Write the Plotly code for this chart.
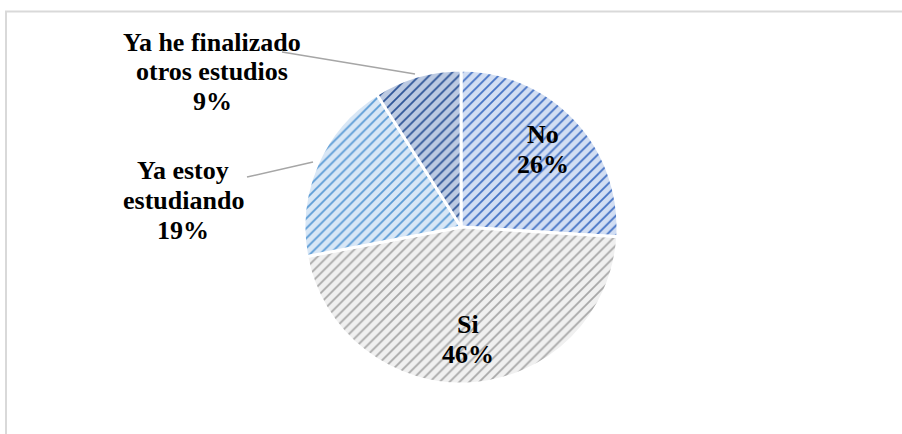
import math
import plotly.graph_objects as go

# Survey answers and their shares (%)
labels = ["No", "Si", "Ya estoy estudiando", "Ya he finalizado otros estudios"]
values = [26, 46, 19, 9]
label_lines = [["No"], ["Si"], ["Ya estoy", "estudiando"], ["Ya he finalizado", "otros estudios"]]

bg_colors = ["#d2def3", "#f0f0f0", "#d8e7f6", "#bccae2"]
fg_colors = ["#4472c4", "#a8a8a8", "#5b9bd5", "#2f5597"]

W, H = 902, 434
CX, CY, R = 461, 227, 157
FONT = dict(family="Liberation Serif", size=26, color="#000000", weight="bold")
LINE_H = 30


def px(x):
    return x / W


def py(y):
    return 1 - y / H


fig = go.Figure(
    go.Pie(
        labels=labels,
        values=values,
        sort=False,
        direction="clockwise",
        rotation=0,
        textinfo="none",
        hoverinfo="label+percent",
        marker=dict(
            colors=bg_colors,
            line=dict(color="#ffffff", width=3),
            pattern=dict(
                shape="/",
                bgcolor=bg_colors,
                fgcolor=fg_colors,
                size=7,
                solidity=0.26,
            ),
        ),
        domain=dict(x=[px(CX - R), px(CX + R)], y=[py(CY + R), py(CY - R)]),
        showlegend=False,
    )
)


def add_block(lines, cx, cy):
    n = len(lines)
    for i, line in enumerate(lines):
        y = cy + (i - (n - 1) / 2) * LINE_H
        fig.add_annotation(
            x=px(cx), y=py(y), xref="paper", yref="paper",
            text=line, showarrow=False,
            xanchor="center", yanchor="middle", font=FONT,
        )


total = sum(values)
start = 0.0
mids = []
for v in values:
    frac = v / total
    mids.append((start + frac / 2) * 2 * math.pi)
    start += frac

# Labels inside the two large slices, placed along each slice's mid-angle
for i in (0, 1):
    a = mids[i]
    lx = CX + 0.72 * R * math.sin(a)
    ly = CY - 0.72 * R * math.cos(a)
    add_block(label_lines[i] + ["%d%%" % values[i]], lx, ly)

# Outside labels with leader lines
add_block(label_lines[3] + ["%d%%" % values[3]], 212, 72)
add_block(label_lines[2] + ["%d%%" % values[2]], 183, 200)

leader = dict(color="#a6a6a6", width=1.5)
fig.add_shape(type="line", xref="paper", yref="paper",
              x0=px(282), y0=py(52), x1=px(415), y1=py(74), line=leader)
fig.add_shape(type="line", xref="paper", yref="paper",
              x0=px(247), y0=py(177), x1=px(313), y1=py(162), line=leader)

# Chart area frame
fig.add_shape(type="rect", xref="paper", yref="paper",
              x0=px(6), y0=py(440), x1=px(910), y1=py(11.5),
              line=dict(color="#d9d9d9", width=2), fillcolor="rgba(0,0,0,0)", layer="below")

fig.update_layout(
    width=W, height=H,
    margin=dict(l=0, r=0, t=0, b=0),
    paper_bgcolor="#ffffff",
    plot_bgcolor="#ffffff",
)

fig.write_html("out.html")
